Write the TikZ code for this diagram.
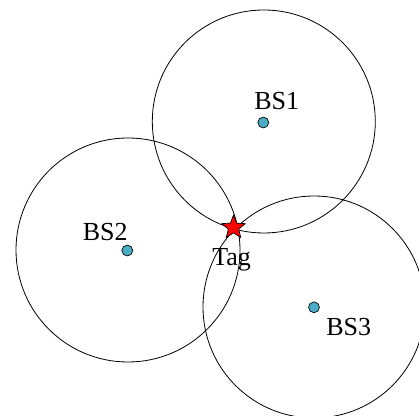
\documentclass[tikz,border=0pt]{standalone}
\usepackage{fontspec}
\setmainfont{Liberation Serif}
\usetikzlibrary{shapes.geometric}
\definecolor{stationblue}{HTML}{4BACC6}
\tikzset{
  coverage/.style={draw=black, line width=0.6pt},
  station/.style={circle, draw=black, line width=0.5pt, fill=stationblue, minimum size=8.2pt, inner sep=0pt},
  tagstar/.style={star, star points=5, star point ratio=2.3, draw=black, line width=0.5pt, fill=red, minimum size=18.6pt, inner sep=0pt},
  lbl/.style={anchor=base west, inner sep=0pt, font=\fontsize{19.5pt}{22pt}\selectfont}
}
\begin{document}
\begin{tikzpicture}[x=0.75pt, y=-0.75pt]
  \useasboundingbox (0,0) rectangle (419,416);
  % coverage ranges of the three base stations
  \draw[coverage] (263.8,121.5) circle[radius=111.5];
  \draw[coverage] (128,250) circle[radius=112];
  \begin{scope}
    \clip (0,0) rectangle (419,416);
    \draw[coverage] (314,307) circle[radius=111];
  \end{scope}
  % base stations
  \node[station] (bs1) at (263.3,122.5) {};
  \node[station] (bs2) at (127.3,250.5) {};
  \node[station] (bs3) at (314,307.3) {};
  \node[lbl] (l1) at (254,110) {BS1};
  \node[lbl] (l2) at (82.5,240.5) {BS2};
  \node[lbl] (l3) at (326,336) {BS3};
  % tag position
  \node[tagstar] (tag) at (233.5,227.5) {};
  \node[lbl] (lt) at (212,266) {Tag};
\end{tikzpicture}
\end{document}
